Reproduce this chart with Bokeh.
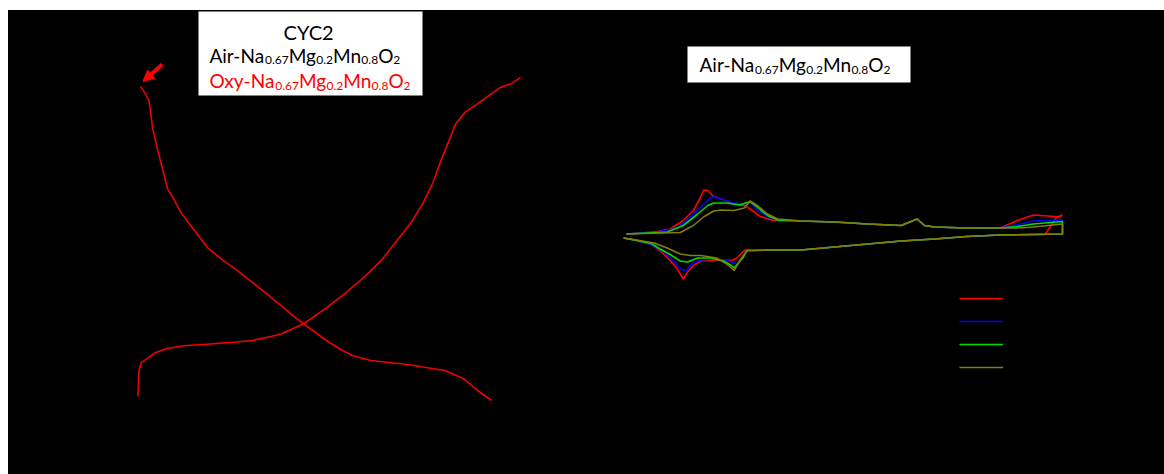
from bokeh.plotting import figure
from bokeh.models import Range1d, Label, BoxAnnotation, Arrow, NormalHead, Spacer
from bokeh.layouts import row, column
from bokeh.embed import file_html
from bokeh.resources import INLINE

# ---------------- data: left panel (2nd cycle charge / discharge) ----------------
charge_cap = [0.07, 0.5, 1.7, 4.3, 8.5, 13.7, 22.7, 31.2, 43.9, 54.1, 62.9, 68.1, 78.5, 89.2, 98.3,
              106.6, 114.8, 122.4, 129.0, 134.5, 139.3, 143.1, 146.9, 150.1, 154.8, 160.5, 165.7,
              170.9, 176.3, 180.7]
charge_v = [1.537, 1.779, 1.853, 1.89, 1.946, 1.983, 2.011, 2.02, 2.04, 2.058, 2.095, 2.123, 2.216,
            2.364, 2.504, 2.643, 2.80, 2.987, 3.154, 3.331, 3.526, 3.73, 3.916, 4.074, 4.186, 4.26,
            4.335, 4.409, 4.446, 4.502]
discharge_cap = [1.2, 2.0, 3.3, 5.2, 6.1, 6.9, 9.4, 12.2, 14.0, 17.4, 20.1, 24.2, 32.9, 39.1, 47.0,
                 60.8, 75.0, 89.0, 95.8, 101.3, 110.0, 127.3, 144.8, 153.7, 160.4, 167.0]
discharge_v = [4.418, 4.40, 4.36, 4.288, 4.177, 4.037, 3.823, 3.61, 3.47, 3.359, 3.256, 3.145, 2.922,
               2.82, 2.708, 2.494, 2.262, 2.058, 1.974, 1.918, 1.872, 1.835, 1.779, 1.704, 1.593, 1.5]

# ---------------- data: right panel (CV, 4 cycles) ----------------
red_v = [1.50, 1.60, 1.71, 1.80, 1.89, 1.96, 2.01, 2.03, 2.06, 2.09, 2.15, 2.24, 2.31, 2.35, 2.42, 2.51,
         2.70, 2.93, 3.16, 3.39, 3.50, 3.55, 3.62, 3.84, 4.07, 4.19, 4.30, 4.40, 4.48, 4.50,
         4.46, 4.38, 4.30, 4.07, 3.84, 3.62, 3.39, 3.16, 2.93, 2.70, 2.51, 2.35,
         2.32, 2.30, 2.26, 2.23, 2.17, 2.08, 2.01, 1.96, 1.92, 1.89, 1.87, 1.84, 1.79, 1.73, 1.67, 1.57, 1.48]
red_i = [-0.01, 0.01, 0.04, 0.09, 0.26, 0.46, 0.73, 0.87, 0.86, 0.76, 0.69, 0.59, 0.56, 0.49, 0.34, 0.26,
         0.25, 0.23, 0.19, 0.16, 0.29, 0.16, 0.13, 0.11, 0.11, 0.26, 0.37, 0.35, 0.33, 0.37,
         0.33, -0.02, -0.02, -0.03, -0.06, -0.11, -0.15, -0.21, -0.27, -0.33, -0.33, -0.34,
         -0.33, -0.37, -0.49, -0.53, -0.54, -0.53, -0.55, -0.64, -0.77, -0.91, -0.81, -0.67, -0.51, -0.34,
         -0.22, -0.14, -0.09]

blue_v = [1.50, 1.71, 1.85, 1.94, 2.01, 2.07, 2.10, 2.15, 2.24, 2.31, 2.35, 2.40, 2.49, 2.56,
          2.70, 2.93, 3.16, 3.39, 3.50, 3.55, 3.62, 3.84, 4.07, 4.19, 4.30, 4.50,
          4.50, 4.30, 4.07, 3.84, 3.62, 3.39, 3.16, 2.93, 2.70, 2.51, 2.35, 2.33, 2.30, 2.27, 2.24,
          2.19, 2.10, 2.01, 1.95, 1.91, 1.87, 1.83, 1.76, 1.67, 1.57, 1.48]
blue_i = [-0.01, 0.03, 0.11, 0.33, 0.53, 0.69, 0.74, 0.69, 0.61, 0.59, 0.63, 0.47, 0.31, 0.26,
          0.25, 0.23, 0.19, 0.16, 0.29, 0.16, 0.13, 0.11, 0.11, 0.18, 0.25, 0.27,
          -0.01, -0.02, -0.03, -0.06, -0.11, -0.15, -0.21, -0.27, -0.33, -0.33, -0.34, -0.34, -0.46,
          -0.62, -0.59, -0.54, -0.51, -0.53, -0.61, -0.74, -0.71, -0.57, -0.37, -0.22, -0.14, -0.09]

green_v = [1.50, 1.78, 1.89, 1.99, 2.06, 2.10, 2.19, 2.28, 2.35, 2.40, 2.47, 2.54,
           2.70, 2.93, 3.16, 3.39, 3.50, 3.55, 3.62, 3.84, 4.07, 4.19, 4.30, 4.50,
           4.50, 4.30, 4.07, 3.84, 3.62, 3.39, 3.16, 2.93, 2.70, 2.51, 2.35, 2.33, 2.30, 2.24, 2.22,
           2.17, 2.08, 1.99, 1.92, 1.87, 1.80, 1.73, 1.67, 1.57, 1.48]
green_i = [-0.01, 0.03, 0.16, 0.39, 0.56, 0.61, 0.61, 0.57, 0.64, 0.53, 0.36, 0.27,
           0.25, 0.23, 0.19, 0.16, 0.29, 0.16, 0.13, 0.11, 0.11, 0.14, 0.19, 0.24,
           -0.01, -0.02, -0.03, -0.06, -0.11, -0.15, -0.21, -0.27, -0.33, -0.33, -0.34, -0.34, -0.49,
           -0.69, -0.64, -0.55, -0.49, -0.49, -0.57, -0.55, -0.42, -0.31, -0.20, -0.14, -0.09]

olive_v = [1.50, 1.87, 1.96, 2.03, 2.10, 2.15, 2.24, 2.31, 2.35, 2.40, 2.47, 2.54,
           2.70, 2.93, 3.16, 3.39, 3.50, 3.55, 3.62, 3.84, 4.07, 4.19, 4.30, 4.50,
           4.50, 4.30, 4.07, 3.84, 3.62, 3.39, 3.16, 2.93, 2.70, 2.51, 2.35, 2.33, 2.28, 2.24, 2.19,
           2.12, 2.01, 1.94, 1.87, 1.78, 1.69, 1.57, 1.48]
olive_i = [-0.01, 0.02, 0.16, 0.33, 0.45, 0.47, 0.46, 0.51, 0.65, 0.56, 0.39, 0.29,
           0.25, 0.23, 0.19, 0.16, 0.29, 0.16, 0.13, 0.11, 0.11, 0.11, 0.13, 0.19,
           -0.01, -0.02, -0.03, -0.06, -0.11, -0.15, -0.21, -0.27, -0.33, -0.33, -0.34, -0.34, -0.54,
           -0.74, -0.61, -0.49, -0.44, -0.44, -0.41, -0.29, -0.19, -0.13, -0.09]

cycle_labels = ["1st cycle", "2nd cycle", "3rd cycle", "4th cycle"]
cycle_colors = ["#ff0000", "#0000ff", "#00dd00", "#808000"]

FONT = "Lato"
LIFT = 9  # px: raise text so it sits inside the white boxes

# approximate advance widths (em) used to lay out formula pieces
CW = {'A': 0.68, 'i': 0.24, 'r': 0.36, '-': 0.36, 'N': 0.77, 'a': 0.51, 'M': 0.93, 'g': 0.52,
      'n': 0.56, 'O': 0.80, 'x': 0.50, 'y': 0.52, '.': 0.24}


def text_w(s, size):
    return sum(CW.get(ch, 0.58) for ch in s) * size


def formula(prefix):
    return [(prefix + "-Na", False), ("0.67", True), ("Mg", False), ("0.2", True),
            ("Mn", False), ("0.8", True), ("O", False), ("2", True)]


def draw_formula(fig, x, y, pieces, color, main=19, sub=12):
    off = 0.0
    for txt, is_sub in pieces:
        size = sub if is_sub else main
        fig.add_layout(Label(x=x, y=y, x_offset=off, y_offset=LIFT + (-5 if is_sub else 0), text=txt,
                             text_font=FONT, text_font_size=f"{size}px", text_color=color,
                             text_align="left", text_baseline="alphabetic"))
        off += text_w(txt, size)


def style(fig):
    fig.background_fill_color = "black"
    fig.border_fill_color = "black"
    fig.outline_line_color = None
    fig.grid.visible = False
    for ax in fig.axis:
        ax.axis_line_color = "black"
        ax.major_tick_line_color = "black"
        ax.minor_tick_line_color = "black"
        ax.major_label_text_color = "black"
        ax.axis_label_text_color = "black"
        ax.major_label_text_font_size = "11px"
        ax.axis_label_text_font_size = "13px"
        ax.axis_label_text_font = FONT


# ---------------- left figure ----------------
p1 = figure(width=552, height=464, output_backend="svg", toolbar_location=None,
            x_range=Range1d(-20, 190.1), y_range=Range1d(1.249, 5.126),
            min_border_left=87, min_border_right=20, min_border_top=0, min_border_bottom=47,
            x_axis_label="Specific capacity (mAh g⁻¹)", y_axis_label="Voltage (V vs. Na⁺/Na)")
style(p1)
p1.line(charge_cap, charge_v, line_color="#ee0000", line_width=1.6)
p1.line(discharge_cap, discharge_v, line_color="#ee0000", line_width=1.6)
p1.add_layout(Arrow(x_start=11.5, y_start=4.624, x_end=2.4, y_end=4.466, line_color="#ff0000",
                    line_width=4, end=NormalHead(size=11, fill_color="#ff0000", line_color="#ff0000")))
p1.add_layout(BoxAnnotation(left=28.63, right=134.39, bottom=4.335, top=5.116, fill_color="white",
                            fill_alpha=1.0, line_color="#808080", line_width=1))
p1.add_layout(Label(x=80.6, y=4.847, y_offset=LIFT, text="CYC2", text_font=FONT, text_font_size="20px",
                    text_color="black", text_align="center", text_baseline="alphabetic"))
draw_formula(p1, 33.8, 4.624, formula("Air"), "black")
draw_formula(p1, 33.8, 4.391, formula("Oxy"), "#ff0000")

# ---------------- right figure ----------------
p2 = figure(width=604, height=464, output_backend="svg", toolbar_location=None,
            x_range=Range1d(1.4243, 5.0643), y_range=Range1d(-3.88, 4.46),
            min_border_left=55, min_border_right=20, min_border_top=0, min_border_bottom=47,
            x_axis_label="Voltage (V vs. Na⁺/Na)", y_axis_label="Current (mA)")
style(p2)
series = [(red_v, red_i), (blue_v, blue_i), (green_v, green_i), (olive_v, olive_i)]
for (xs, ys), lab, col in zip(series, cycle_labels, cycle_colors):
    p2.line(xs, ys, line_color=col, line_width=1.6, legend_label=lab)

lg = p2.legend[0]
lg.location = (344, 50)
lg.background_fill_color = "black"
lg.background_fill_alpha = 0.0
lg.border_line_color = None
lg.label_text_color = "black"
lg.label_text_font = FONT
lg.label_text_font_size = "14px"
lg.glyph_width = 44
lg.glyph_height = 20
lg.label_height = 20
lg.spacing = 3
lg.padding = 10
lg.margin = 0

p2.add_layout(BoxAnnotation(left=1.9197, right=3.4542, bottom=3.02, top=3.74, fill_color="white",
                            fill_alpha=1.0, line_color="#808080", line_width=1))
draw_formula(p2, 2.0023, 3.2, formula("Air"), "black")

panels = row(p1, p2, styles={"background-color": "black"})
layout = column(Spacer(width=1164, height=10),
                row(Spacer(width=8, height=464), panels))
open("out.html", "w").write(file_html(layout, INLINE))
